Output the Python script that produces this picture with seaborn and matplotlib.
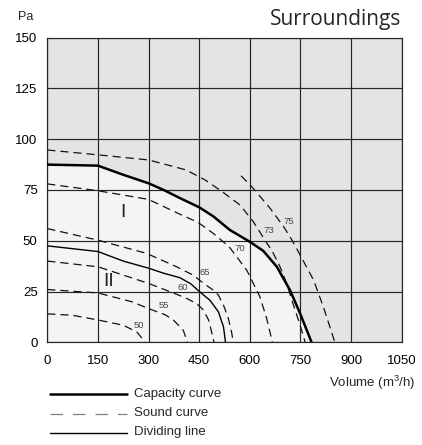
import matplotlib
matplotlib.use("Agg")
import matplotlib.pyplot as plt
import seaborn as sns
import numpy as np
import pandas as pd
from matplotlib.lines import Line2D

# ---------------- data ----------------
cap_x = [0, 150, 225, 300, 345, 393, 450, 492, 541, 600, 640, 680, 719, 749, 783]
cap_y = [87.5, 87, 82.5, 78.3, 75, 71, 66.5, 62, 55.3, 49.5, 45, 37.2, 25.7, 14.2, 0]

div_x = [0, 150, 225, 300, 345, 393, 425, 452, 482, 507, 522, 528]
div_y = [47.5, 44.7, 40, 36.5, 34, 31.8, 28.8, 24.8, 20.7, 15, 7.6, 0]

s50_x = [0, 75, 150, 225, 266, 290]
s50_y = [14, 13.3, 11, 8.4, 5, 0]
s55_x = [0, 150, 250, 300, 350, 374, 403, 415]
s55_y = [26, 24.3, 20, 16.6, 13.5, 10.9, 5.9, 0]
s60_x = [0, 150, 300, 378, 413, 443, 463, 478, 487, 494]
s60_y = [40, 37.2, 29, 24, 21.6, 19, 15.8, 10.9, 5, 0]
s65_x = [0, 150, 294, 383, 433, 463, 492, 507, 522, 536, 546, 551]
s65_y = [56, 50.3, 43.8, 37.2, 33, 29, 25.7, 23.2, 18.3, 12, 5, 0]
s70_x = [0, 151, 299, 394, 447, 492, 539, 591, 630, 650, 667]
s70_y = [78, 74.6, 70.4, 63, 59, 53.6, 47, 35.5, 22.4, 11.7, 0]
s73_x = [0, 151, 300, 411, 467, 518, 571, 610, 646, 666, 690, 709, 730, 748, 764]
s73_y = [94.7, 92.3, 89.8, 84.9, 80, 74.2, 67.6, 59.5, 50, 45, 37, 29, 18, 9, 0]
s75_x = [574, 606, 660, 700, 725, 749, 789, 818, 852]
s75_y = [82, 76.6, 66, 57, 50.3, 43, 30.6, 17.4, 0]

sound_levels = ["50", "55", "60", "65", "70", "73", "75"]
sound_label_x = [272, 346, 400, 467, 570, 656, 714]
sound_label_y = [8.3, 18.3, 27, 34.3, 46, 55, 59.5]

x_ticks = [0, 150, 300, 450, 600, 750, 900, 1050]
y_ticks = [0, 25, 50, 75, 100, 125, 150]

title = "Surroundings"
y_unit = "Pa"
x_label = "Volume (m$^3$/h)"
legend_labels = ["Capacity curve", "Sound curve", "Dividing line"]

# ---------------- figure ----------------
sns.set_style("white")
plt.rcParams["font.family"] = ["Liberation Sans", "DejaVu Sans"]
plt.rcParams["mathtext.fontset"] = "custom"
plt.rcParams["mathtext.rm"] = "Liberation Sans"

W, H = 422, 445
fig = plt.figure(figsize=(W / 100, H / 100), dpi=100)
ax = fig.add_axes([47.3 / W, 1 - 342.3 / H, (401.7 - 47.3) / W, (342.3 - 37.7) / H])

ax.set_facecolor("#e4e4e4")
ax.fill_between(cap_x, cap_y, 0, color="#f4f4f4", zorder=0, linewidth=0)

ax.set_xlim(0, 1050)
ax.set_ylim(0, 150)
ax.set_xticks(x_ticks)
ax.set_yticks(y_ticks)
ax.set_xticks(np.arange(75, 1050, 150), minor=True)
ax.set_yticks(np.arange(12.5, 150, 25), minor=True)
ax.grid(True, which="major", color="#262626", linewidth=0.85, zorder=1)
ax.set_axisbelow(False)
ax.tick_params(which="major", length=0, labelsize=9.5, pad=7, colors="black")
ax.tick_params(axis="x", which="major", pad=9)
ax.tick_params(which="minor", direction="in", length=3, width=0.8, color="#222222")
ax.tick_params(axis="x", which="minor", length=4)
for sp in ax.spines.values():
    sp.set_color("#262626")
    sp.set_linewidth(0.85)

sound_x = [s50_x, s55_x, s60_x, s65_x, s70_x, s73_x, s75_x]
sound_y = [s50_y, s55_y, s60_y, s65_y, s70_y, s73_y, s75_y]
for sx, sy in zip(sound_x, sound_y):
    sns.lineplot(x=sx, y=sy, sort=False, ax=ax, color="#111111", linewidth=0.9,
                 estimator=None, zorder=3)
    ax.lines[-1].set_dashes([6.5, 4])

sns.lineplot(x=div_x, y=div_y, sort=False, ax=ax, color="black", linewidth=1.0,
             estimator=None, zorder=4)
sns.lineplot(x=cap_x, y=cap_y, sort=False, ax=ax, color="black", linewidth=1.8,
             estimator=None, zorder=5)

for lab, lx, ly in zip(sound_levels, sound_label_x, sound_label_y):
    ax.text(lx, ly, lab, fontsize=6.8, color="#444444", ha="center", va="center", zorder=6)

ax.text(224, 64, "I", fontsize=14, ha="center", va="center", color="#222222", zorder=6)
ax.text(183, 30, "II", fontsize=14, ha="center", va="center", color="#222222", zorder=6)

ax.set_xlabel("")
ax.set_ylabel("")

fig.text(18 / W, 1 - 17 / H, y_unit, fontsize=9, ha="left", va="center")
fig.text(401 / W, 1 - 19 / H, title, fontsize=15, ha="right", va="center",
         family=["Open Sans", "DejaVu Sans"])
fig.text(415 / W, 1 - 383 / H, x_label, fontsize=9.5, ha="right", va="center")

# legend (manual, figure coordinates)
rows = [394, 413.5, 432.5]
styles = [dict(color="black", lw=1.8), dict(color="#808080", lw=0.9, dashes=[10, 8]),
          dict(color="black", lw=1.0)]
for yy, st, lab in zip(rows, styles, legend_labels):
    dashes = st.pop("dashes", None)
    ln = Line2D([50 / W, 127 / W], [1 - yy / H, 1 - yy / H], transform=fig.transFigure, **st)
    if dashes:
        ln.set_dashes(dashes)
    fig.add_artist(ln)
    fig.text(134 / W, 1 - yy / H, lab, fontsize=9.5, ha="left", va="center")

fig.savefig("out.png", dpi=100)
